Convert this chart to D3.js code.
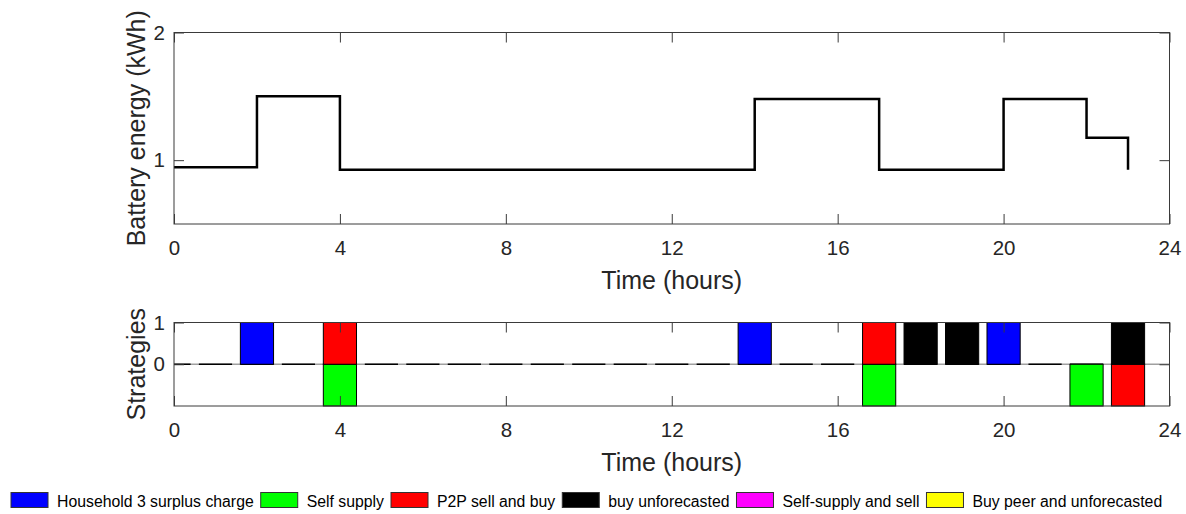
<!DOCTYPE html>
<html>
<head>
<meta charset="utf-8">
<script src="https://cdn.jsdelivr.net/npm/d3@7/dist/d3.min.js"></script>
<style>
  html, body { margin: 0; padding: 0; background: #fff; }
  svg { display: block; font-family: "Liberation Sans", Arial, Helvetica, sans-serif; }
  .tick text { fill: #262626; }
</style>
</head>
<body>
<svg id="chart" width="1186" height="514"></svg>
<script>
// ---------------- data ----------------
const hours = d3.range(0, 24);
const battery = [0.945, 0.945, 1.5, 1.5,
  0.925, 0.925, 0.925, 0.925, 0.925, 0.925, 0.925, 0.925, 0.925, 0.925,
  1.48, 1.48, 1.48, 0.925, 0.925, 0.925, 1.48, 1.48, 1.175, 0.925];

const seriesNames = ["Household 3 surplus charge", "Self supply", "P2P sell and buy",
  "buy unforecasted", "Self-supply and sell", "Buy peer and unforecasted"];
const seriesColors = ["#0000ff", "#00ff00", "#ff0000", "#000000", "#ff00ff", "#ffff00"];
//                  0  1  2  3  4  5  6  7  8  9 10 11 12 13 14 15 16 17 18 19 20 21 22 23
const surplusCharge = [0, 0, 1, 0, 0, 0, 0, 0, 0, 0, 0, 0, 0, 0, 1, 0, 0, 0, 0, 0, 1, 0, 0, 0];
const selfSupply    = [0, 0, 0, 0,-1, 0, 0, 0, 0, 0, 0, 0, 0, 0, 0, 0, 0,-1, 0, 0, 0, 0,-1, 0];
const p2pSellBuy    = [0, 0, 0, 0, 1, 0, 0, 0, 0, 0, 0, 0, 0, 0, 0, 0, 0, 1, 0, 0, 0, 0, 0,-1];
const buyUnforecast = [0, 0, 0, 0, 0, 0, 0, 0, 0, 0, 0, 0, 0, 0, 0, 0, 0, 0, 1, 1, 0, 0, 0, 1];
const selfSupplySell= [0, 0, 0, 0, 0, 0, 0, 0, 0, 0, 0, 0, 0, 0, 0, 0, 0, 0, 0, 0, 0, 0, 0, 0];
const buyPeerUnfc   = [0, 0, 0, 0, 0, 0, 0, 0, 0, 0, 0, 0, 0, 0, 0, 0, 0, 0, 0, 0, 0, 0, 0, 0];
const seriesValues = [surplusCharge, selfSupply, p2pSellBuy, buyUnforecast, selfSupplySell, buyPeerUnfc];

const xTicks = [0, 4, 8, 12, 16, 20, 24];
const yTicksTop = [1, 2];
const yTicksBottom = [0, 1];

// ---------------- layout ----------------
const svg = d3.select("#chart");
const L = 174, R = 1169.5;
const top1 = 32.5, bot1 = 224;
const top2 = 322.5, bot2 = 406;
const axisColor = "#3a3a3a";
const textColor = "#262626";
const tickFont = 20.5, labelFont = 25;

const x = d3.scaleLinear().domain([0, 24]).range([L, R]);
const y1 = d3.scaleLinear().domain([0.5, 2]).range([bot1, top1]);
const y2 = d3.scaleLinear().domain([-1, 1]).range([bot2, top2]);

svg.append("defs").append("clipPath").attr("id", "clip2")
  .append("rect").attr("x", L).attr("y", top2 - 2).attr("width", R - L).attr("height", bot2 - top2 + 4);

function drawAxes(yScale, yTicks, top, bot, ylabel) {
  const g = svg.append("g");
  const ab = g.append("g").attr("transform", `translate(0,${bot})`)
    .call(d3.axisBottom(x).tickValues(xTicks).tickSize(-10).tickPadding(16).tickFormat(d3.format("d")));
  const at = g.append("g").attr("transform", `translate(0,${top})`)
    .call(d3.axisTop(x).tickValues(xTicks).tickSize(-10).tickFormat(""));
  const al = g.append("g").attr("transform", `translate(${L},0)`)
    .call(d3.axisLeft(yScale).tickValues(yTicks).tickSize(-10).tickPadding(9).tickFormat(d3.format("d")));
  const ar = g.append("g").attr("transform", `translate(${R},0)`)
    .call(d3.axisRight(yScale).tickValues(yTicks).tickSize(-10).tickFormat(""));
  [ab, at, al, ar].forEach(a => {
    a.select(".domain").remove();
    a.selectAll(".tick line").attr("stroke", axisColor).attr("stroke-width", 1);
    a.selectAll(".tick text").attr("font-size", tickFont).attr("fill", textColor)
      .attr("font-family", "'Liberation Sans', Arial, Helvetica, sans-serif");
  });
  g.append("rect").attr("x", L).attr("y", top).attr("width", R - L).attr("height", bot - top)
    .attr("fill", "none").attr("stroke", axisColor).attr("stroke-width", 1);
  g.append("text").attr("x", (L + R) / 2).attr("y", bot + 65).attr("text-anchor", "middle")
    .attr("font-size", labelFont).attr("fill", textColor).text("Time (hours)");
  g.append("text").attr("transform", `translate(145,${(top + bot) / 2}) rotate(-90)`)
    .attr("text-anchor", "middle").attr("font-size", labelFont).attr("fill", textColor).text(ylabel);
}

// ---------------- top chart ----------------
const lineData = hours.map((h, i) => ({ h, v: battery[i] }));
svg.append("path").datum(lineData)
  .attr("fill", "none").attr("stroke", "#000").attr("stroke-width", 2.5)
  .attr("stroke-linejoin", "miter")
  .attr("d", d3.line().x(d => x(d.h)).y(d => y1(d.v)).curve(d3.curveStepAfter));
drawAxes(y1, yTicksTop, top1, bot1, "Battery energy (kWh)");

// ---------------- bottom chart ----------------
const table = hours.map((h, i) => {
  const row = { h };
  seriesNames.forEach((n, k) => { row[n] = seriesValues[k][i]; });
  return row;
});
const stack = d3.stack().keys(seriesNames).offset(d3.stackOffsetDiverging)(table);
const barW = 0.8;
const plot2 = svg.append("g").attr("clip-path", "url(#clip2)");

plot2.append("line").attr("x1", L).attr("x2", R).attr("y1", y2(0)).attr("y2", y2(0))
  .attr("stroke", "#a0a0a0").attr("stroke-width", 1.5);

plot2.append("g").selectAll("line").data(hours).join("line")
  .attr("x1", h => x(h - barW / 2)).attr("x2", h => x(h + barW / 2))
  .attr("y1", y2(0)).attr("y2", y2(0))
  .attr("stroke", "#000").attr("stroke-width", 1.5);

stack.forEach((s, k) => {
  plot2.append("g").selectAll("rect").data(s.filter(d => d[1] !== d[0])).join("rect")
    .attr("x", d => x(d.data.h - barW / 2))
    .attr("width", x(barW) - x(0))
    .attr("y", d => y2(Math.max(d[0], d[1])))
    .attr("height", d => Math.abs(y2(d[0]) - y2(d[1])))
    .attr("fill", seriesColors[k]).attr("stroke", "#000").attr("stroke-width", 1);
});
drawAxes(y2, yTicksBottom, top2, bot2, "Strategies");

// ---------------- legend ----------------
const leg = svg.append("g");
let lx = 11;
const boxW = 37, boxH = 15, boxY = 492.5, legFont = 15.8;
seriesNames.forEach((n, k) => {
  leg.append("rect").attr("x", lx).attr("y", boxY).attr("width", boxW).attr("height", boxH)
    .attr("fill", seriesColors[k]).attr("stroke", "#333").attr("stroke-width", 1);
  const t = leg.append("text").attr("x", lx + boxW + 9).attr("y", boxY + boxH - 1)
    .attr("font-size", legFont).attr("fill", "#000").text(n);
  lx = lx + boxW + 9 + t.node().getComputedTextLength() + 7;
});
</script>
</body>
</html>
